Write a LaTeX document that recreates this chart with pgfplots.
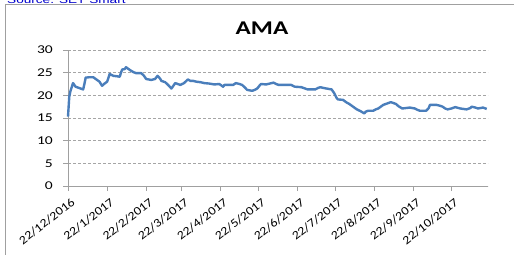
\documentclass[border=0pt]{standalone}
\usepackage{fontspec}
\usepackage{pgfplots}
\pgfplotsset{compat=1.18}
\setmainfont{Carlito}
\newfontfamily\ytickfont[FakeStretch=1.3]{Carlito}
\newfontfamily\xtickfont[FakeStretch=1.16]{Carlito}
\newfontfamily\titlefont[FakeStretch=1.3]{Carlito}
\newfontfamily\srcfont[FakeStretch=1.3]{Liberation Sans}
\definecolor{lineblue}{RGB}{74,126,187}
\definecolor{srcblue}{RGB}{0,0,204}
\definecolor{gridgray}{RGB}{165,165,165}
\definecolor{axgray}{RGB}{160,160,160}
\begin{document}
\begin{tikzpicture}[x=1bp,y=1bp]
\path[use as bounding box] (0,0) rectangle (514,254);
\draw[axgray, line width=1bp] (5,-5) -- (5,249) -- (520,249);
\node[anchor=base west, inner sep=0pt, text=srcblue, font=\srcfont\fontsize{10.5}{12}\selectfont] at (7,251) {Source: SET Smart};
\node[font=\titlefont\bfseries\fontsize{19.5}{22}\selectfont, inner sep=0pt] at (262,225.6) {AMA};
\begin{axis}[
  at={(68bp,68bp)}, anchor=south west,
  scale only axis, width=420bp, height=136bp,
  xmin=0, xmax=333, ymin=0, ymax=30,
  axis x line*=bottom, axis y line*=left,
  axis line style={axgray, line width=1bp},
  tick align=outside,
  major tick length=5bp,
  tick style={axgray, line width=0.8bp},
  xtick={0,31,62,90,121,151,182,212,243,274,304},
  xticklabels={22/12/2016,22/1/2017,22/2/2017,22/3/2017,22/4/2017,22/5/2017,22/6/2017,22/7/2017,22/8/2017,22/9/2017,22/10/2017},
  ytick={0,5,10,15,20,25,30},
  /pgf/number format/assume math mode=true,
  xticklabel style={font=\xtickfont\fontsize{12}{14}\selectfont, anchor=north east, inner sep=0pt, xshift=2.5bp, yshift=-6bp, rotate=38},
  yticklabel style={font=\ytickfont\fontsize{12}{14}\selectfont, anchor=east, inner sep=0pt, xshift=-10bp},
  ymajorgrids,
  grid style={gridgray, dash pattern=on 3bp off 2bp, line width=0.8bp},
  clip=false,
]
\addplot[lineblue, line width=2.4bp, line join=round] coordinates {
(0,15.3)(1,19.7)(2,21.0)(4,22.7)(5,22.3)(6,21.9)(9,21.6)(12,21.3)(13,22.5)(14,23.9)
(17,24.0)(20,24.0)(23,23.4)(25,23.0)(27,22.1)(29,22.6)(31,23.0)(32,23.8)(33,24.7)(36,24.3)
(39,24.2)(41,24.1)(42,25.0)(43,25.7)(45,25.8)(46,26.2)(48,25.8)(49,25.6)(52,25.1)(54,24.9)
(56,24.9)(58,24.9)(60,24.4)(62,23.6)(64,23.5)(66,23.4)(69,23.6)(71,24.3)(73,23.7)(74,23.2)
(77,22.9)(79,22.4)(81,21.8)(82,21.5)(84,22.3)(85,22.7)(87,22.5)(89,22.3)(92,22.7)(95,23.5)
(97,23.2)(99,23.2)(102,23.0)(105,22.9)(108,22.7)(112,22.6)(116,22.4)(120,22.5)(123,21.9)(124,22.3)
(128,22.3)(131,22.3)(133,22.7)(136,22.5)(138,22.3)(140,21.8)(142,21.2)(146,21.0)(148,21.2)(150,21.5)
(152,22.2)(153,22.5)(157,22.4)(160,22.6)(163,22.8)(165,22.5)(167,22.3)(172,22.3)(177,22.3)(179,22.0)
(180,21.9)(185,21.8)(188,21.5)(190,21.3)(196,21.3)(198,21.6)(200,21.8)(203,21.6)(205,21.5)(209,21.3)
(211,20.5)(213,19.4)(214,19.1)(218,19.0)(219,18.8)(221,18.4)(223,18.1)(226,17.5)(229,16.9)(232,16.5)
(235,16.0)(236,16.4)(238,16.6)(242,16.6)(244,16.9)(246,17.1)(248,17.5)(250,17.9)(253,18.2)(256,18.5)
(258,18.3)(260,18.1)(262,17.6)(265,17.1)(268,17.2)(271,17.3)(275,17.1)(277,16.8)(279,16.6)(284,16.6)
(286,17.2)(287,17.9)(292,17.9)(295,17.7)(297,17.5)(299,17.1)(301,16.9)(304,17.1)(307,17.4)(311,17.1)
(316,16.9)(319,17.2)(320,17.5)(323,17.3)(325,17.1)(329,17.3)(332,17.0)
};
\end{axis}
\end{tikzpicture}
\end{document}
